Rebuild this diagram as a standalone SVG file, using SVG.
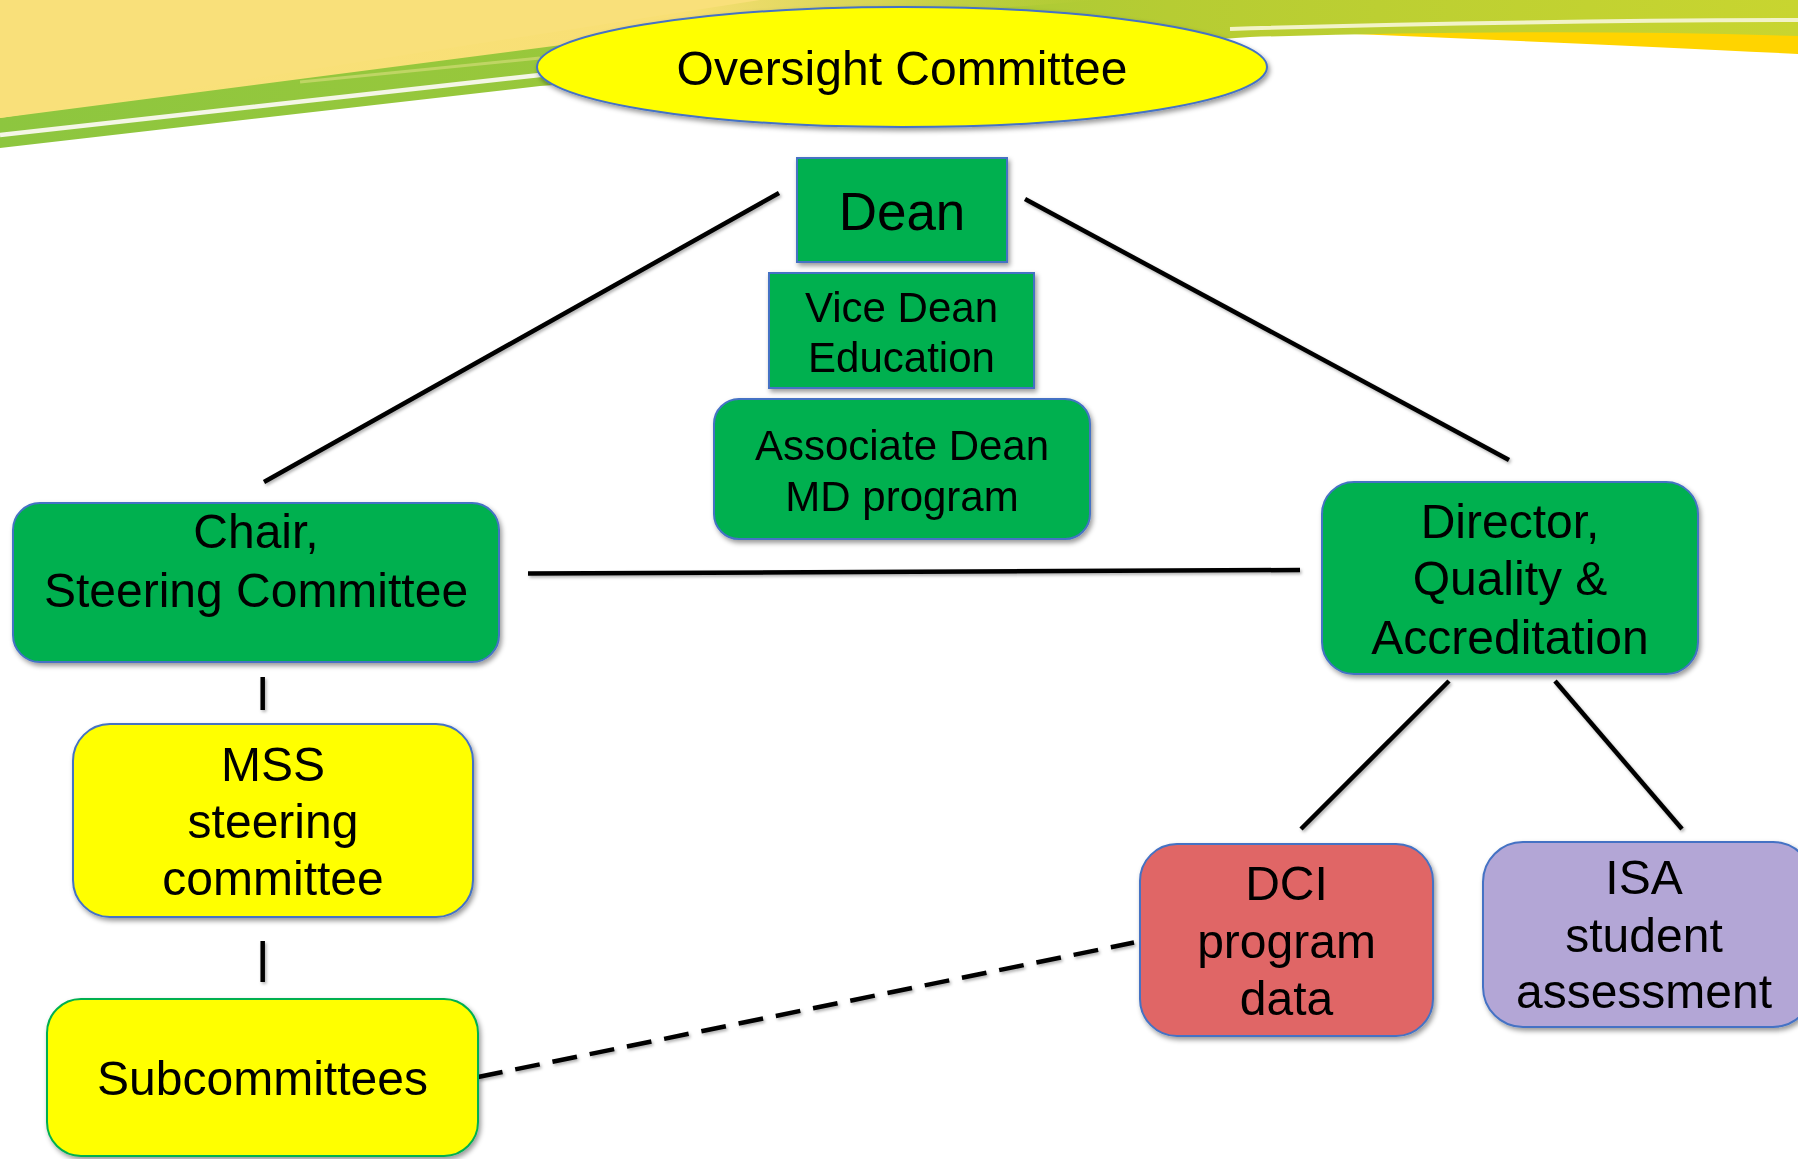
<svg xmlns="http://www.w3.org/2000/svg" width="1798" height="1159" viewBox="0 0 1798 1159">
  <defs>
    <linearGradient id="gTop" x1="0" y1="0" x2="1798" y2="0" gradientUnits="userSpaceOnUse">
      <stop offset="0" stop-color="#8DC63F"/>
      <stop offset="0.4" stop-color="#9CC83A"/>
      <stop offset="0.65" stop-color="#B6CC33"/>
      <stop offset="1" stop-color="#C8D530"/>
    </linearGradient>
    <linearGradient id="gPale" x1="0" y1="0" x2="1100" y2="0" gradientUnits="userSpaceOnUse">
      <stop offset="0" stop-color="#F9E17B"/>
      <stop offset="0.62" stop-color="#F8DF74"/>
      <stop offset="0.8" stop-color="#E3D85C" stop-opacity="0.8"/>
      <stop offset="1" stop-color="#C2D036" stop-opacity="0"/>
    </linearGradient>
    <filter id="sh" x="-10%" y="-10%" width="125%" height="130%">
      <feDropShadow dx="2" dy="3" stdDeviation="2.5" flood-color="#000" flood-opacity="0.4"/>
    </filter>
    <filter id="lsh" x="-5%" y="-20%" width="110%" height="140%">
      <feDropShadow dx="1.5" dy="2" stdDeviation="1.5" flood-color="#000" flood-opacity="0.3"/>
    </filter>
  </defs>
  <style>
    .lbl { font-family: "Liberation Sans", Arial, sans-serif; fill: #000; text-anchor: middle; }
    .f48 { font-size: 48px; }
    .f42 { font-size: 42px; }
    .f53 { font-size: 53px; }
    .grn { fill: #00B050; stroke: #4472C4; stroke-width: 2; }
    .yel { fill: #FFFF00; stroke: #4472C4; stroke-width: 2; }
    .conn { stroke: #000; stroke-width: 4.5; fill: none; stroke-linecap: butt; }
  </style>

  <rect x="0" y="0" width="1798" height="1159" fill="#FFFFFF"/>

  <!-- background header -->
  <g id="background">
    <path d="M1330,33 Q1600,30 1798,34 V54 Q1600,44 1330,33 Z" fill="#FFD400"/>
    <path d="M0,0 H1798 V36 Q1550,28 1250,37 L540,86 L0,148 Z" fill="url(#gTop)"/>
    <path d="M0,0 H1100 L600,40 L0,118 Z" fill="url(#gPale)"/>
    <path d="M0,0 H760 L0,118 Z" fill="#F9E07A"/>
    <path d="M0,135 L540,75 L900,40" stroke="#F4F6E6" stroke-width="4.5" fill="none"/>
    <path d="M1230,29 Q1500,21 1798,20" stroke="#F2F3C8" stroke-width="4" fill="none"/>
    <path d="M300,82 L540,58" stroke="#C9D86E" stroke-width="3" fill="none" opacity="0.8"/>
  </g>

  <!-- connectors -->
  <g id="connectors" filter="url(#lsh)">
    <line class="conn" x1="779" y1="193" x2="264" y2="482"/>
    <line class="conn" x1="1025" y1="199" x2="1509" y2="460"/>
    <line class="conn" x1="528" y1="573.5" x2="1300" y2="570"/>
    <line class="conn" x1="262.7" y1="677" x2="262.7" y2="710"/>
    <line class="conn" x1="262.7" y1="941" x2="262.7" y2="982"/>
    <line class="conn" x1="1449" y1="681" x2="1301" y2="829"/>
    <line class="conn" x1="1555" y1="681" x2="1682" y2="829"/>
    <line class="conn" x1="478" y1="1077" x2="1134" y2="942.5" stroke-width="5" stroke-dasharray="25 13"/>
  </g>

  <g id="oversight" filter="url(#sh)">
    <ellipse cx="902" cy="67" rx="365" ry="60" fill="#FFFF00" stroke="#4472C4" stroke-width="2"/>
    <text class="lbl f48" x="902" y="85">Oversight Committee</text>
  </g>

  <g id="dean" filter="url(#sh)">
    <rect class="grn" x="797" y="158" width="210" height="104"/>
    <text class="lbl f53" x="902" y="230">Dean</text>
  </g>

  <g id="vice-dean" filter="url(#sh)">
    <rect class="grn" x="769" y="273" width="265" height="115"/>
    <text class="lbl f42" x="901.5" y="322">Vice Dean</text>
    <text class="lbl f42" x="901.5" y="372">Education</text>
  </g>

  <g id="associate-dean" filter="url(#sh)">
    <rect class="grn" x="714" y="399" width="376" height="140" rx="25" ry="25"/>
    <text class="lbl f42" x="902" y="460">Associate Dean</text>
    <text class="lbl f42" x="902" y="510.5">MD program</text>
  </g>

  <g id="chair" filter="url(#sh)">
    <rect class="grn" x="13" y="503" width="486" height="159" rx="27" ry="27"/>
    <text class="lbl f48" x="256" y="548">Chair,</text>
    <text class="lbl f48" x="256" y="606.5">Steering Committee</text>
  </g>

  <g id="director" filter="url(#sh)">
    <rect class="grn" x="1322" y="482" width="376" height="192" rx="32" ry="32"/>
    <text class="lbl f48" x="1510" y="538">Director,</text>
    <text class="lbl f48" x="1510" y="595">Quality &amp;</text>
    <text class="lbl f48" x="1510" y="654">Accreditation</text>
  </g>

  <g id="mss" filter="url(#sh)">
    <rect class="yel" x="73" y="724" width="400" height="193" rx="37" ry="37"/>
    <text class="lbl f48" x="273" y="780.5">MSS</text>
    <text class="lbl f48" x="273" y="838">steering</text>
    <text class="lbl f48" x="273" y="895">committee</text>
  </g>

  <g id="subcommittees" filter="url(#sh)">
    <rect x="47" y="999" width="431" height="157" rx="34" ry="34" fill="#FFFF00" stroke="#00B050" stroke-width="2"/>
    <text class="lbl f48" x="262.5" y="1095">Subcommittees</text>
  </g>

  <g id="dci" filter="url(#sh)">
    <rect x="1140" y="844" width="293" height="192" rx="37" ry="37" fill="#E06666" stroke="#4472C4" stroke-width="2"/>
    <text class="lbl f48" x="1286.5" y="900">DCI</text>
    <text class="lbl f48" x="1286.5" y="958">program</text>
    <text class="lbl f48" x="1286.5" y="1015">data</text>
  </g>

  <g id="isa" filter="url(#sh)">
    <rect x="1483" y="842" width="330" height="185" rx="40" ry="40" fill="#B3A6D6" stroke="#4472C4" stroke-width="2"/>
    <text class="lbl f48" x="1644" y="894">ISA</text>
    <text class="lbl f48" x="1644" y="951.5">student</text>
    <text class="lbl f48" x="1644" y="1008">assessment</text>
  </g>
</svg>
